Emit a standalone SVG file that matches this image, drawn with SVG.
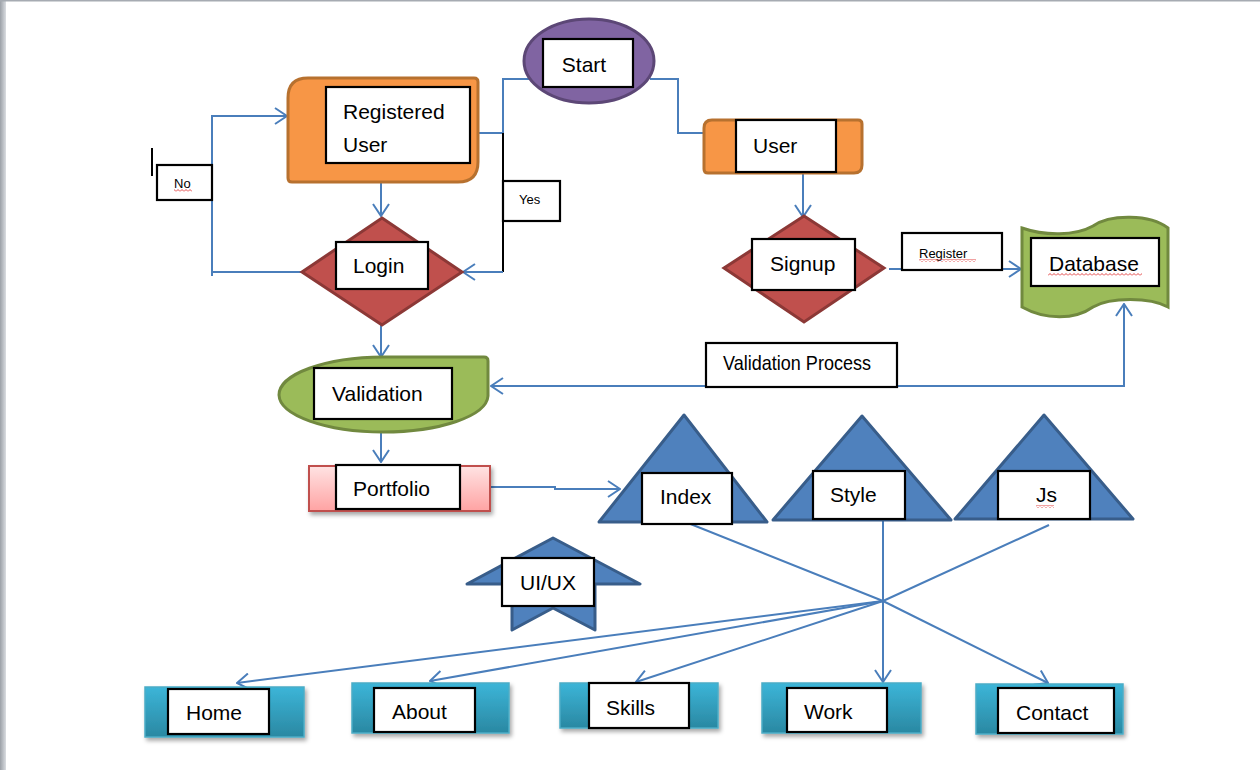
<svg xmlns="http://www.w3.org/2000/svg" width="1260" height="770" viewBox="0 0 1260 770">
<style>
.lbl{fill:#fff;stroke:#000;stroke-width:2.2}
.t{font-family:"Liberation Sans",Arial,sans-serif;font-size:21px;fill:#000}
.ts{font-family:"Liberation Sans",Arial,sans-serif;font-size:13px;fill:#000}
.c{fill:none;stroke:#4A7EBB;stroke-width:2}
.tri{fill:#4F81BD;stroke:#385D8A;stroke-width:3;stroke-linejoin:round}
.dia{fill:#C0504D;stroke:#8C3836;stroke-width:3}
.org{fill:#F79646;stroke:#B7712F;stroke-width:3}
.grn{fill:#9BBB59;stroke:#71893F;stroke-width:3}
.btn{fill:url(#bg);stroke:#4BACC6;stroke-width:1.5;filter:url(#sh)}
.sq{fill:url(#wave)}
</style>
<defs>
<linearGradient id="bg" x1="0" y1="0" x2="0" y2="1"><stop offset="0" stop-color="#3CB5D8"/><stop offset="1" stop-color="#2A88A2"/></linearGradient>
<linearGradient id="pg" x1="0" y1="0" x2="0" y2="1"><stop offset="0" stop-color="#FFE3E3"/><stop offset="1" stop-color="#FFA3A3"/></linearGradient>
<linearGradient id="lg" x1="0" y1="0" x2="1" y2="0"><stop offset="0" stop-color="#9BA0A7"/><stop offset="1" stop-color="#DADDE1"/></linearGradient>
<filter id="sh" x="-10%" y="-20%" width="130%" height="160%"><feDropShadow dx="2" dy="3" stdDeviation="2" flood-color="#000" flood-opacity="0.35"/></filter>
<pattern id="wave" width="4" height="3" patternUnits="userSpaceOnUse"><path d="M0,2.5 L2,0.5 L4,2.5" fill="none" stroke="#E03030" stroke-width="0.9"/></pattern>
<marker id="arr" viewBox="0 0 14 18" refX="13" refY="9" markerWidth="14" markerHeight="18" markerUnits="userSpaceOnUse" orient="auto"><path d="M1,1 L13,9 L1,17" fill="none" stroke="#4A7EBB" stroke-width="2"/></marker>
</defs>
<rect x="0" y="0" width="1260" height="770" fill="#fff"/>
<rect x="0" y="0" width="6" height="770" fill="url(#lg)"/>
<rect x="0" y="0" width="1260" height="1.5" fill="#A6ABB2"/>

<g id="connectors">
<polyline class="c" points="531,79 503,79 503,133 476,133"/>
<line x1="503" y1="133" x2="503" y2="272" stroke="#000" stroke-width="2"/>
<line class="c" x1="503" y1="272" x2="463" y2="272" marker-end="url(#arr)"/>
<polyline class="c" points="650,79 678,79 678,133 704,133"/>
<line class="c" x1="803" y1="173" x2="803" y2="217" marker-end="url(#arr)"/>
<line class="c" x1="889" y1="269" x2="1021" y2="269" marker-end="url(#arr)"/>
<line class="c" x1="381" y1="172" x2="381" y2="216" marker-end="url(#arr)"/>
<polyline class="c" points="303,272 212,272 212,116 287,116" marker-end="url(#arr)"/>
<line class="c" x1="212" y1="272" x2="212" y2="276"/>
<line class="c" x1="381" y1="325" x2="381" y2="357" marker-end="url(#arr)"/>
<line class="c" x1="1124" y1="387" x2="1124" y2="304" marker-end="url(#arr)"/>
<line class="c" x1="1125" y1="386" x2="491" y2="386" marker-end="url(#arr)"/>
<line class="c" x1="381" y1="432" x2="381" y2="462" marker-end="url(#arr)"/>
<polyline class="c" points="490,487 555,487 555,489 620,489" marker-end="url(#arr)"/>
<line class="c" x1="688" y1="523" x2="883" y2="601"/>
<line class="c" x1="1049" y1="525" x2="883" y2="601"/>
<line class="c" x1="883" y1="520" x2="883" y2="682" marker-end="url(#arr)"/>
<line class="c" x1="883" y1="601" x2="237" y2="683" marker-end="url(#arr)"/>
<line class="c" x1="883" y1="601" x2="430" y2="681" marker-end="url(#arr)"/>
<line class="c" x1="883" y1="601" x2="636" y2="682" marker-end="url(#arr)"/>
<line class="c" x1="883" y1="601" x2="1048" y2="683" marker-end="url(#arr)"/>
</g>

<g id="start">
<ellipse cx="589" cy="61" rx="65" ry="42" fill="#8064A2" stroke="#5C4776" stroke-width="3"/>
<rect class="lbl" x="543" y="39" width="90" height="48"/>
<text class="t" x="584" y="72" text-anchor="middle">Start</text>
</g>

<g id="registered-user">
<path class="org" d="M308,78 L474,78 Q478,78 478,82 L478,162 Q478,182 458,182 L292,182 Q288,182 288,178 L288,98 Q288,78 308,78 Z"/>
<rect class="lbl" x="326" y="87" width="144" height="76"/>
<text class="t" x="343" y="119">Registered</text>
<text class="t" x="343" y="152">User</text>
</g>

<g id="no-label">
<line x1="152" y1="148" x2="152" y2="176" stroke="#000" stroke-width="2"/>
<rect class="lbl" x="157" y="165" width="55" height="35"/>
<text class="ts" x="174" y="188">No</text>
<rect class="sq" x="174" y="189" width="18" height="3"/>
</g>

<g id="yes-label">
<rect class="lbl" x="503" y="181" width="57" height="40"/>
<text class="ts" x="519" y="204" font-size="12">Yes</text>
</g>

<g id="user">
<path class="org" d="M712,120 L858,120 Q862,120 862,124 L862,165 Q862,173 854,173 L708,173 Q704,173 704,169 L704,128 Q704,120 712,120 Z"/>
<rect class="lbl" x="736" y="120" width="100" height="52"/>
<text class="t" x="753" y="153">User</text>
</g>

<g id="login">
<polygon class="dia" points="382,218 462,272 382,325 302,272"/>
<rect class="lbl" x="336" y="242" width="92" height="47"/>
<text class="t" x="353" y="273">Login</text>
</g>

<g id="signup">
<polygon class="dia" points="804,216 884,268 804,322 724,268"/>
<rect class="lbl" x="752" y="239" width="103" height="51"/>
<text class="t" x="770" y="271">Signup</text>
</g>

<g id="register-label">
<rect class="lbl" x="902" y="233" width="100" height="37"/>
<text class="ts" x="919" y="258" font-size="15">Register</text>
<rect class="sq" x="919" y="259" width="57" height="3"/>
</g>

<g id="database">
<path class="grn" d="M1022,228 C1045,236 1075,236 1093,226 C1110,214 1150,214 1168,228 L1168,307 C1150,297 1110,297 1093,307 C1075,320 1045,320 1022,307 Z"/>
<rect class="lbl" x="1031" y="238" width="128" height="48"/>
<text class="t" x="1049" y="271">Database</text>
<rect class="sq" x="1048" y="273" width="94" height="3"/>
</g>

<g id="validation-process-label">
<rect class="lbl" x="706" y="343" width="191" height="44"/>
<text class="t" x="723" y="370" font-size="16" textLength="148" lengthAdjust="spacingAndGlyphs">Validation Process</text>
</g>

<g id="validation">
<path class="grn" d="M383,357 L484,357 Q488,357 488,361 L488,396 A105,37 0 0 1 383,432 A105,37.5 0 0 1 279,395 A105,38 0 0 1 383,357 Z"/>
<rect class="lbl" x="314" y="368" width="138" height="51"/>
<text class="t" x="332" y="401">Validation</text>
</g>

<g id="portfolio">
<rect x="309" y="466" width="181" height="45" fill="url(#pg)" stroke="#C0504D" stroke-width="2" filter="url(#sh)"/>
<rect class="lbl" x="336" y="465" width="124" height="44"/>
<text class="t" x="353" y="496">Portfolio</text>
</g>

<g id="index">
<polygon class="tri" points="684,415 767,522 599,522"/>
<rect class="lbl" x="642" y="473" width="90" height="51"/>
<text class="t" x="660" y="504">Index</text>
</g>

<g id="style">
<polygon class="tri" points="862,416 951,520 773,520"/>
<rect class="lbl" x="813" y="471" width="92" height="48"/>
<text class="t" x="830" y="502">Style</text>
</g>

<g id="js">
<polygon class="tri" points="1044,415 1133,519 955,519"/>
<rect class="lbl" x="998" y="471" width="92" height="48"/>
<text class="t" x="1036" y="502">Js</text>
<rect class="sq" x="1036" y="505" width="18" height="3"/>
</g>

<g id="uiux">
<polygon class="tri" points="553,538 640,584 595,584 595,630 553,608 512,630 512,584 467,584"/>
<rect class="lbl" x="502" y="558" width="92" height="48"/>
<text class="t" x="520" y="590">UI/UX</text>
</g>

<g id="home">
<rect class="btn" x="145" y="687" width="159" height="50"/>
<rect class="lbl" x="168" y="689" width="101" height="45"/>
<text class="t" x="186" y="720">Home</text>
</g>

<g id="about">
<rect class="btn" x="352" y="683" width="157" height="50"/>
<rect class="lbl" x="374" y="688" width="101" height="44"/>
<text class="t" x="392" y="719">About</text>
</g>

<g id="skills">
<rect class="btn" x="560" y="683" width="158" height="45"/>
<rect class="lbl" x="589" y="683" width="100" height="45"/>
<text class="t" x="606" y="715">Skills</text>
</g>

<g id="work">
<rect class="btn" x="762" y="683" width="159" height="50"/>
<rect class="lbl" x="787" y="688" width="100" height="44"/>
<text class="t" x="804" y="719">Work</text>
</g>

<g id="contact">
<rect class="btn" x="976" y="684" width="147" height="50"/>
<rect class="lbl" x="998" y="688" width="116" height="45"/>
<text class="t" x="1016" y="720">Contact</text>
</g>
</svg>
